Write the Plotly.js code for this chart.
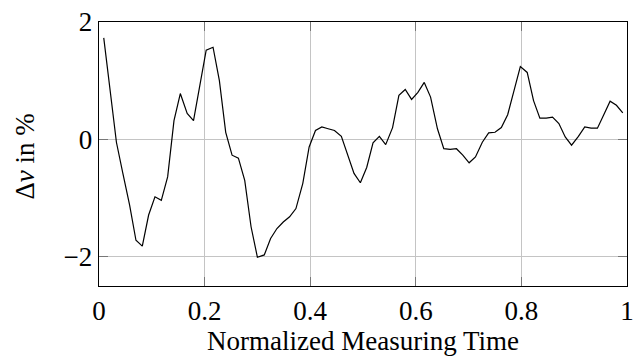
<!DOCTYPE html>
<html>
<head>
<meta charset="utf-8">
<script src="https://cdn.plot.ly/plotly-3.0.1.min.js"></script>
<style>html,body{margin:0;padding:0;background:#fff}#chart{width:641px;height:359px}</style>
</head>
<body>
<div id="chart"></div>
<script>
const timeValues = [0.009,0.021,0.033,0.045,0.058,0.070,0.082,0.094,0.106,0.118,0.130,0.142,0.154,0.167,0.179,0.191,0.203,0.216,0.228,0.240,0.252,0.264,0.276,0.288,0.300,0.313,0.325,0.337,0.349,0.361,0.373,0.386,0.398,0.410,0.422,0.434,0.446,0.459,0.471,0.483,0.495,0.507,0.519,0.531,0.543,0.556,0.568,0.580,0.592,0.604,0.616,0.628,0.641,0.653,0.665,0.677,0.689,0.701,0.713,0.726,0.738,0.750,0.762,0.774,0.786,0.798,0.811,0.823,0.835,0.847,0.859,0.871,0.883,0.895,0.908,0.920,0.932,0.944,0.956,0.968,0.980,0.992];
const deltaV = [1.73,0.85,-0.05,-0.57,-1.12,-1.72,-1.82,-1.29,-0.98,-1.04,-0.64,0.32,0.78,0.44,0.32,0.92,1.52,1.57,1.00,0.12,-0.27,-0.32,-0.70,-1.49,-2.01,-1.97,-1.69,-1.52,-1.41,-1.32,-1.18,-0.75,-0.13,0.15,0.21,0.18,0.15,0.05,-0.26,-0.58,-0.74,-0.48,-0.06,0.05,-0.09,0.20,0.75,0.85,0.68,0.80,0.97,0.72,0.18,-0.16,-0.17,-0.16,-0.27,-0.40,-0.30,-0.05,0.11,0.12,0.20,0.42,0.83,1.24,1.14,0.66,0.36,0.36,0.38,0.27,0.04,-0.10,0.05,0.21,0.19,0.19,0.42,0.65,0.58,0.45];
const xTicks = [0,0.2,0.4,0.6,0.8,1];
const xTickLabels = ['0','0.2','0.4','0.6','0.8','1'];
const yTicks = [-2,0,2];
const yTickLabels = ['\u22122','0','2'];
const xTitle = 'Normalized Measuring Time';
const yTitle = '\u0394<i>v</i> in %';

const font = {family: '"Liberation Serif", "Times New Roman", serif', size: 27, color: '#000'};

const axisCommon = {
  showgrid: true, gridcolor: '#c4c4c4', gridwidth: 1,
  zeroline: false,
  showline: true, linecolor: '#000', linewidth: 1.3, mirror: 'ticks',
  ticks: 'inside', ticklen: 9, tickwidth: 1, tickcolor: '#777',
  tickfont: font
};

Plotly.newPlot('chart', [{
  x: timeValues, y: deltaV, type: 'scatter', mode: 'lines',
  line: {color: '#000', width: 1.2}, hoverinfo: 'skip'
}], {
  width: 641, height: 359,
  margin: {l: 98.7, r: 13.7, t: 22, b: 73.3},
  paper_bgcolor: '#fff', plot_bgcolor: '#fff',
  showlegend: false,
  font: font,
  xaxis: Object.assign({}, axisCommon, {
    range: [0, 1], tickvals: xTicks, ticktext: xTickLabels
  }),
  yaxis: Object.assign({}, axisCommon, {
    range: [-2.5, 2], tickvals: yTicks, ticktext: yTickLabels
  }),
  annotations: [
    {text: xTitle, xref: 'paper', yref: 'paper', x: 0.5, y: -0.208,
     xanchor: 'center', yanchor: 'middle', showarrow: false, font: font},
    {text: yTitle, xref: 'paper', yref: 'paper', x: -0.1394, y: 0.4918,
     xanchor: 'center', yanchor: 'middle', textangle: -90, showarrow: false, font: font}
  ]
}, {staticPlot: true, displayModeBar: false});
</script>
</body>
</html>
